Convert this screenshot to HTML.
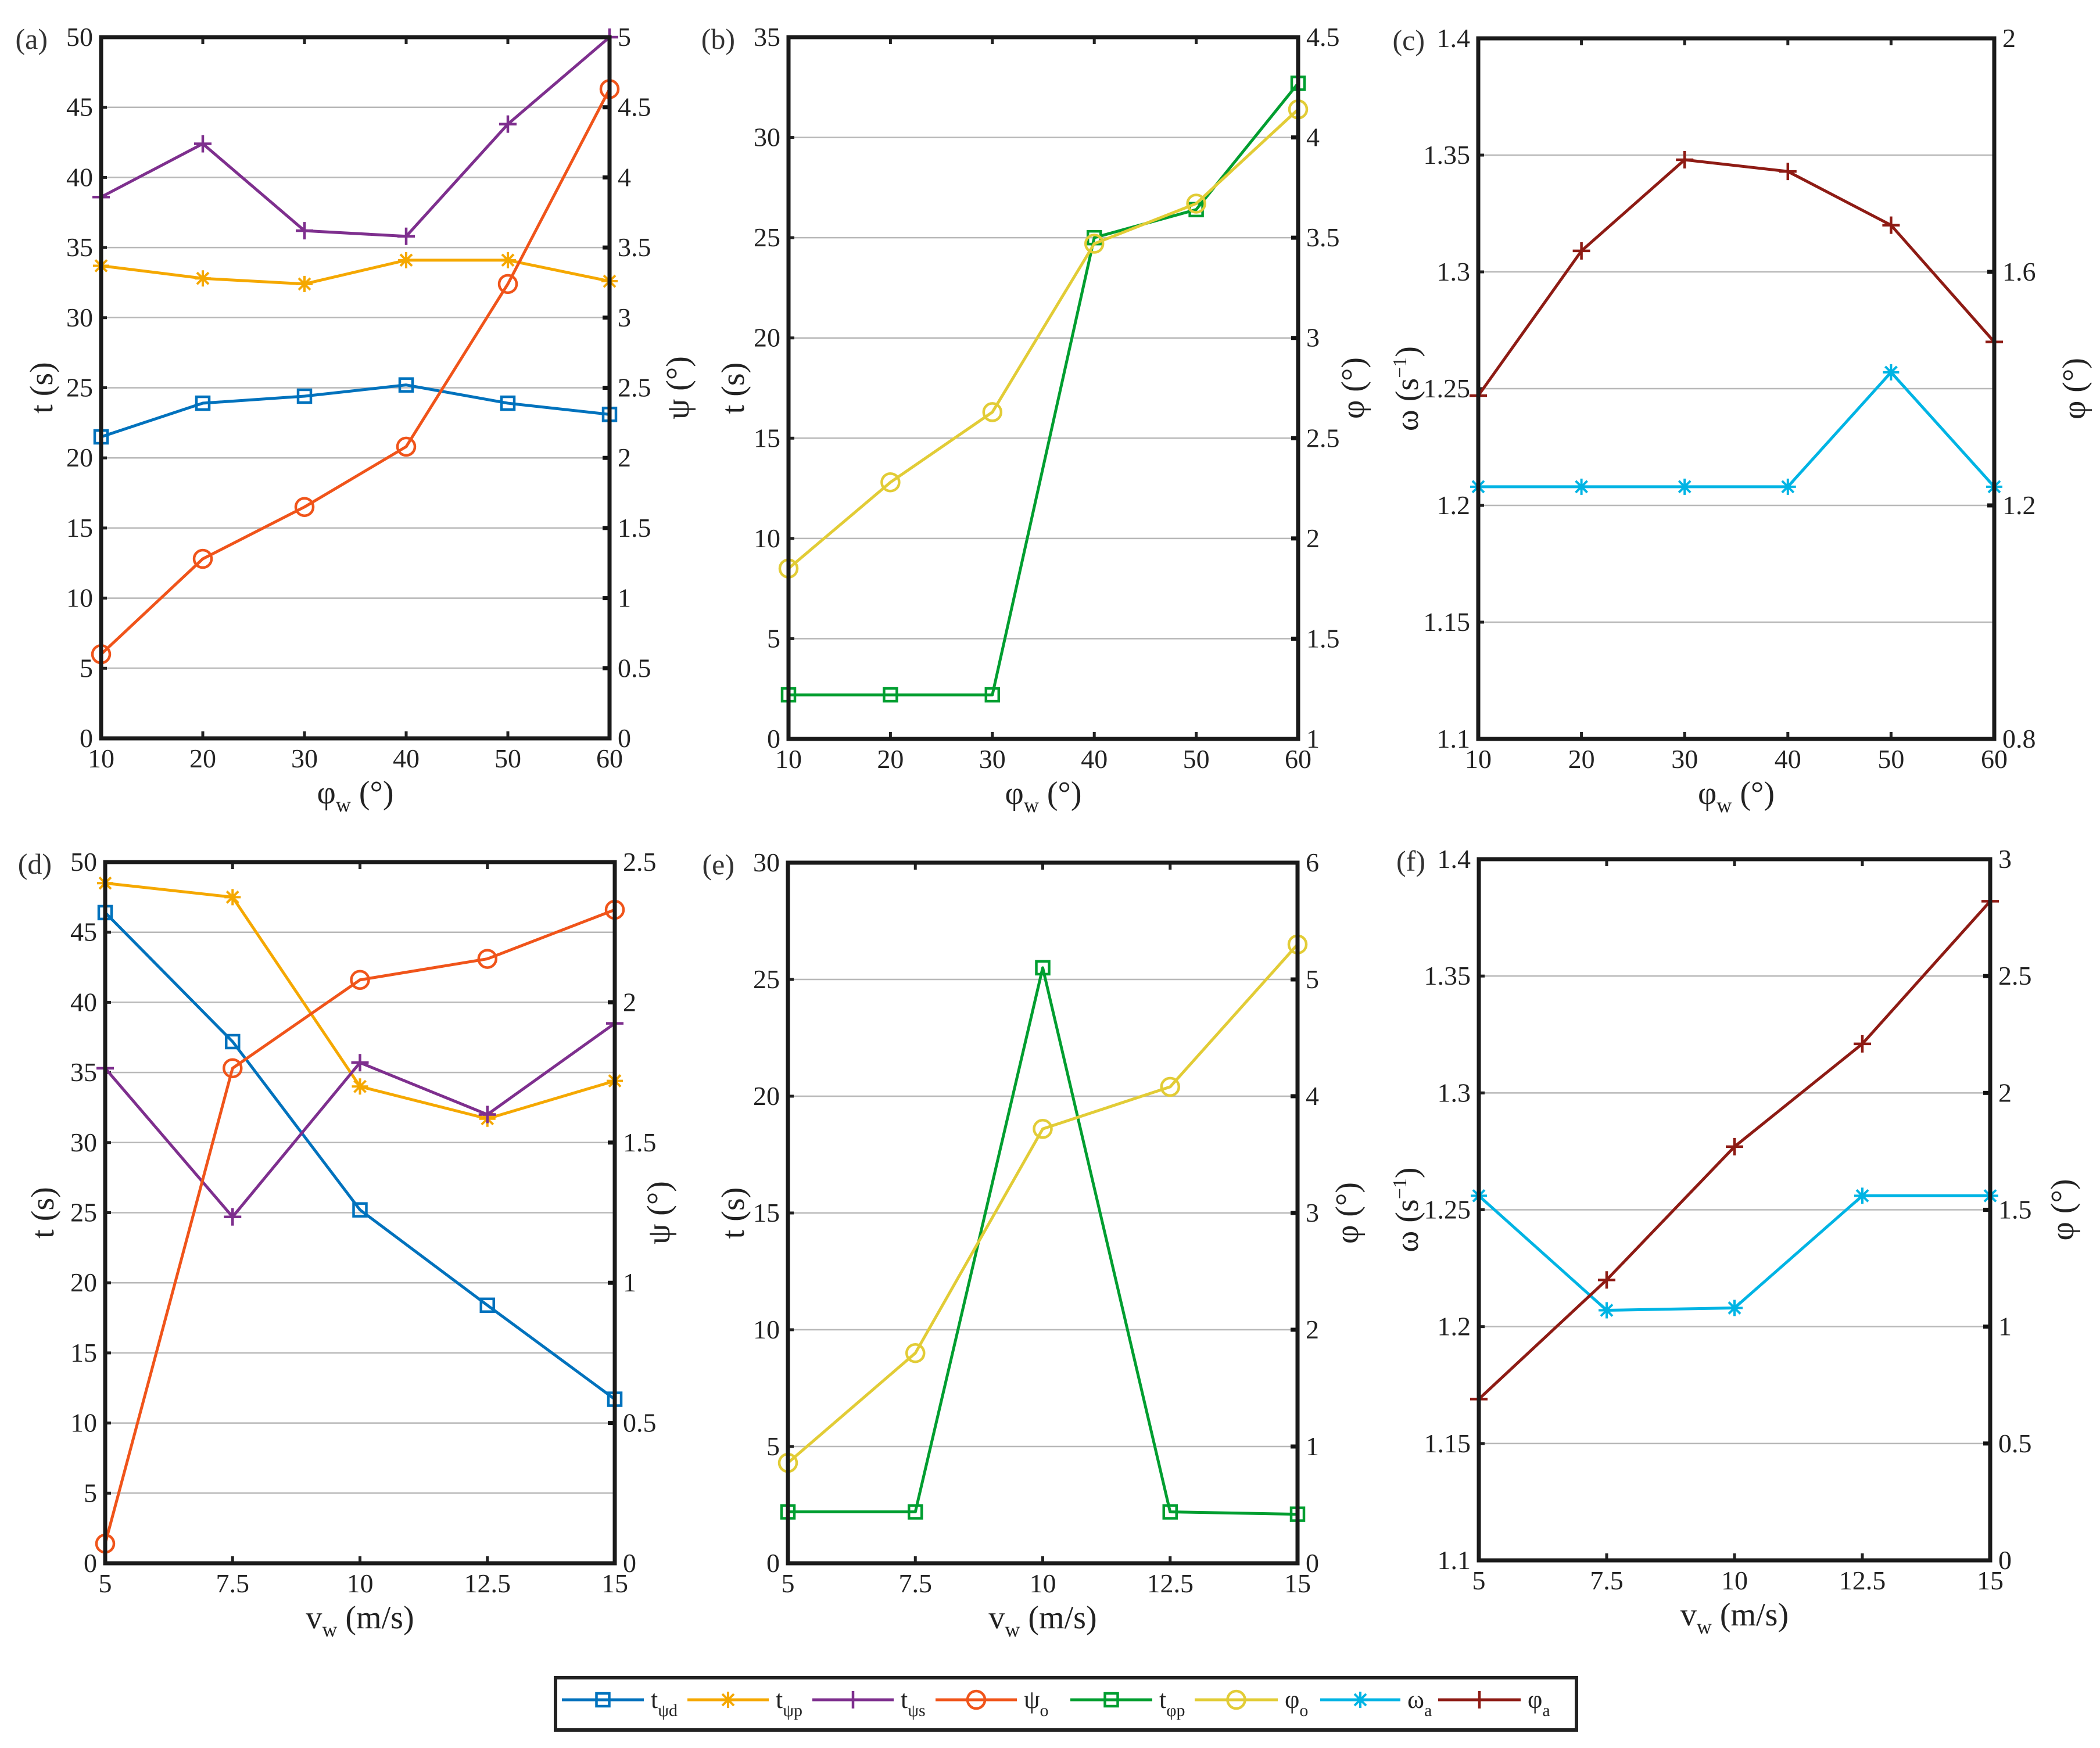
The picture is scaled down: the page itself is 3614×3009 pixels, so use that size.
<!DOCTYPE html>
<html><head><meta charset="utf-8">
<style>
html,body{margin:0;padding:0;background:#fff;}
svg{display:block;font-family:"Liberation Serif",serif;}
</style></head>
<body>
<svg id="fig" width="3614" height="3009" viewBox="0 0 3614 3009" xmlns="http://www.w3.org/2000/svg"></svg>
<script>
// ---- data ----
const xA = [10,20,30,40,50,60];
const xV = [5,7.5,10,12.5,15];
const a_tpsid = [21.5,23.9,24.4,25.2,23.9,23.1];
const a_tpsip = [33.7,32.8,32.4,34.1,34.1,32.6];
const a_tpsis = [38.6,42.4,36.2,35.8,43.8,50.0];
const a_psio  = [0.60,1.28,1.65,2.08,3.24,4.63];
const b_tphip = [2.2,2.2,2.2,25.0,26.4,32.7];
const b_phio  = [1.85,2.28,2.63,3.47,3.67,4.14];
const c_omega = [1.208,1.208,1.208,1.208,1.257,1.208];
const c_phia  = [1.388,1.636,1.792,1.772,1.68,1.48];
const d_tpsid = [46.4,37.2,25.2,18.4,11.7];
const d_tpsip = [48.5,47.5,34.0,31.7,34.4];
const d_tpsis = [35.3,24.7,35.7,32.0,38.5];
const d_psio  = [0.07,1.765,2.08,2.155,2.33];
const e_tphip = [2.2,2.2,25.5,2.2,2.1];
const e_phio  = [0.86,1.8,3.72,4.08,5.3];
const f_omega = [1.256,1.207,1.208,1.256,1.256];
const f_phia  = [0.69,1.2,1.77,2.21,2.82];
const ticksA = ['10','20','30','40','50','60'];
const ticksV = ['5','7.5','10','12.5','15'];

const C = {blue:'#0072BD',orange:'#F5A800',purple:'#7E2F8E',red:'#F0541A',green:'#009E30',yellow:'#E2CC36',cyan:'#00B4E4',dred:'#8E1B14'};
const NS='http://www.w3.org/2000/svg';
const svg=document.getElementById('fig');
function el(tag,attrs,parent){const e=document.createElementNS(NS,tag);for(const k in attrs)e.setAttribute(k,attrs[k]);(parent||svg).appendChild(e);return e;}

function marker(g,type,x,y,col){
  if(type==='sq'){el('rect',{x:x-11,y:y-11,width:22,height:22,fill:'none',stroke:col,'stroke-width':4.5},g);}
  else if(type==='o'){el('circle',{cx:x,cy:y,r:15,fill:'none',stroke:col,'stroke-width':4.5},g);}
  else if(type==='+'){el('path',{d:`M${x-15},${y}H${x+15}M${x},${y-15}V${y+15}`,stroke:col,'stroke-width':4.5},g);}
  else if(type==='*'){el('path',{d:`M${x-14},${y}H${x+14}M${x},${y-14}V${y+14}M${x-10},${y-10}L${x+10},${y+10}M${x-10},${y+10}L${x+10},${y-10}`,stroke:col,'stroke-width':4},g);}
}

function panel(p){
  const g=el('g',{});
  
  
  const {L,R,T,B}=p;
  const xs=v=>L+(v-p.xmin)/(p.xmax-p.xmin)*(R-L);
  const yl=v=>B-(v-p.lmin)/(p.lmax-p.lmin)*(B-T);
  const yr=v=>B-(v-p.rmin)/(p.rmax-p.rmin)*(B-T);
  // grid + left ticks
  p.lticks.forEach(t=>{
    const y=yl(t);
    if(y>T+2&&y<B-2){const gl=el('line',{x1:L,x2:R,y1:y,y2:y,stroke:'#b8b8b8','stroke-width':2.5},g);
      }
    el('line',{x1:L,x2:L+10,y1:y,y2:y,stroke:'#222','stroke-width':5},g);
    const tx=el('text',{x:L-14,y:y+15,'text-anchor':'end','font-size':46,fill:'#222'},g);
    tx.textContent=p.lfmt(t);
    
  });
  p.rticks.forEach(t=>{
    const y=yr(t);
    el('line',{x1:R-12,x2:R,y1:y,y2:y,stroke:'#111','stroke-width':7},g);
    const tx=el('text',{x:R+14,y:y+15,'text-anchor':'start','font-size':46,fill:'#222'},g);
    tx.textContent=p.rfmt(t);
    
  });
  p.xv.forEach((v,i)=>{
    const x=xs(v);
    el('line',{x1:x,x2:x,y1:B,y2:B-12,stroke:'#222','stroke-width':5},g);
    el('line',{x1:x,x2:x,y1:T,y2:T+12,stroke:'#222','stroke-width':5},g);
    const tx=el('text',{x:x,y:B+50,'text-anchor':'middle','font-size':46,fill:'#222'},g);
    tx.textContent=p.xlabels[i];
    
  });
  // series
  p.series.forEach(s=>{
    const sc=s.axis==='r'?yr:yl;
    const pts=s.data.map((v,i)=>[xs(p.xv[i]),sc(v)]);
    const sg=el('g',{},g);
    
    
    el('polyline',{points:pts.map(q=>q.join(',')).join(' '),fill:'none',stroke:s.col,'stroke-width':5,'stroke-linejoin':'round'},sg);
    pts.forEach(q=>marker(sg,s.m,q[0],q[1],s.col));
  });
  // frame
  el('rect',{x:L,y:T,width:R-L,height:B-T,fill:'none',stroke:'#1a1a1a','stroke-width':7},g);
  // labels
  const pl=el('text',{x:L-92,y:T+20,'text-anchor':'end','font-size':50,fill:'#333'},g);
  pl.textContent='('+p.id+')';
  
  const xl=el('text',{x:(L+R)/2,y:B+112,'text-anchor':'middle','font-size':56,fill:'#222'},g);
  xl.innerHTML=p.xlab;
  
  const ly=(T+B)/2;
  const yl1=el('text',{x:p.llx,y:ly,'text-anchor':'middle','font-size':56,fill:'#222',transform:`rotate(-90 ${p.llx} ${ly})`},g);
  yl1.innerHTML=p.llab;
  
  const yr1=el('text',{x:p.rlx,y:ly,'text-anchor':'middle','font-size':56,fill:'#222',transform:`rotate(-90 ${p.rlx} ${ly})`},g);
  yr1.innerHTML=p.rlab;
  
}
const rng=(a,b,s)=>{const r=[];for(let v=a;v<=b+1e-9;v+=s)r.push(Math.round(v*1000)/1000);return r;};
const f0=v=>String(v), f2=v=>String(+v.toFixed(2));
const XPHI='φ<tspan font-size="36" dy="14">w</tspan><tspan dy="-14"> (°)</tspan>';
const XV='v<tspan font-size="36" dy="14">w</tspan><tspan dy="-14"> (m/s)</tspan>';
const OM='ω (s<tspan font-size="34" dy="-20">−1</tspan><tspan dy="20">)</tspan>';

panel({id:'a',L:174,R:1049,T:64,B:1271,xmin:10,xmax:60,xv:xA,xlabels:ticksA,lmin:0,lmax:50,rmin:0,rmax:5,
  lticks:rng(0,50,5),rticks:rng(0,5,0.5),lfmt:f0,rfmt:f2,xlab:XPHI,llab:'t (s)',rlab:'ψ (°)',llx:90,rlx:1185,
  series:[{name:'t-psi-d',data:a_tpsid,col:C.blue,m:'sq'},{name:'t-psi-p',data:a_tpsip,col:C.orange,m:'*'},
  {name:'t-psi-s',data:a_tpsis,col:C.purple,m:'+'},{name:'psi-o',data:a_psio,col:C.red,m:'o',axis:'r'}]});
panel({id:'b',L:1357,R:2234,T:64,B:1272,xmin:10,xmax:60,xv:xA,xlabels:ticksA,lmin:0,lmax:35,rmin:1,rmax:4.5,
  lticks:rng(0,35,5),rticks:rng(1,4.5,0.5),lfmt:f0,rfmt:f2,xlab:XPHI,llab:'t (s)',rlab:'φ (°)',llx:1280,rlx:2347,
  series:[{name:'t-phi-p',data:b_tphip,col:C.green,m:'sq'},{name:'phi-o',data:b_phio,col:C.yellow,m:'o',axis:'r'}]});
panel({id:'c',L:2544,R:3432,T:66,B:1272,xmin:10,xmax:60,xv:xA,xlabels:ticksA,lmin:1.1,lmax:1.4,rmin:0.8,rmax:2,
  lticks:rng(1.1,1.4,0.05),rticks:rng(0.8,2,0.4),lfmt:f2,rfmt:f2,xlab:XPHI,llab:OM,rlab:'φ (°)',llx:2440,rlx:3588,
  series:[{name:'omega-a',data:c_omega,col:C.cyan,m:'*'},{name:'phi-a',data:c_phia,col:C.dred,m:'+',axis:'r'}]});
panel({id:'d',L:181,R:1058,T:1484,B:2691,xmin:5,xmax:15,xv:xV,xlabels:ticksV,lmin:0,lmax:50,rmin:0,rmax:2.5,
  lticks:rng(0,50,5),rticks:rng(0,2.5,0.5),lfmt:f0,rfmt:f2,xlab:XV,llab:'t (s)',rlab:'ψ (°)',llx:92,rlx:1152,
  series:[{name:'t-psi-d',data:d_tpsid,col:C.blue,m:'sq'},{name:'t-psi-p',data:d_tpsip,col:C.orange,m:'*'},
  {name:'t-psi-s',data:d_tpsis,col:C.purple,m:'+'},{name:'psi-o',data:d_psio,col:C.red,m:'o',axis:'r'}]});
panel({id:'e',L:1356,R:2233,T:1485,B:2691,xmin:5,xmax:15,xv:xV,xlabels:ticksV,lmin:0,lmax:30,rmin:0,rmax:6,
  lticks:rng(0,30,5),rticks:rng(0,6,1),lfmt:f0,rfmt:f0,xlab:XV,llab:'t (s)',rlab:'φ (°)',llx:1280,rlx:2337,
  series:[{name:'t-phi-p',data:e_tphip,col:C.green,m:'sq'},{name:'phi-o',data:e_phio,col:C.yellow,m:'o',axis:'r'}]});
panel({id:'f',L:2545,R:3425,T:1479,B:2686,xmin:5,xmax:15,xv:xV,xlabels:ticksV,lmin:1.1,lmax:1.4,rmin:0,rmax:3,
  lticks:rng(1.1,1.4,0.05),rticks:rng(0,3,0.5),lfmt:f2,rfmt:f2,xlab:XV,llab:OM,rlab:'φ (°)',llx:2440,rlx:3568,
  series:[{name:'omega-a',data:f_omega,col:C.cyan,m:'*'},{name:'phi-a',data:f_phia,col:C.dred,m:'+',axis:'r'}]});

// legend
const lg=el('g',{});


el('rect',{x:956,y:2888,width:1757,height:90,fill:'#fff',stroke:'#222','stroke-width':6},lg);
const legItems=[
 {x1:967,x2:1108,col:C.blue,m:'sq',t:'t',s:'ψd'},
 {x1:1183,x2:1323,col:C.orange,m:'*',t:'t',s:'ψp'},
 {x1:1398,x2:1538,col:C.purple,m:'+',t:'t',s:'ψs'},
 {x1:1610,x2:1750,col:C.red,m:'o',t:'ψ',s:'o'},
 {x1:1842,x2:1983,col:C.green,m:'sq',t:'t',s:'φp'},
 {x1:2056,x2:2199,col:C.yellow,m:'o',t:'φ',s:'o'},
 {x1:2272,x2:2410,col:C.cyan,m:'*',t:'ω',s:'a'},
 {x1:2475,x2:2617,col:C.dred,m:'+',t:'φ',s:'a'}];
legItems.forEach(it=>{
  const eg=el('g',{},lg);
  
  
  const y=2926;
  el('line',{x1:it.x1,x2:it.x2,y1:y,y2:y,stroke:it.col,'stroke-width':5},eg);
  marker(eg,it.m,(it.x1+it.x2)/2,y,it.col);
  const tx=el('text',{x:it.x2+12,y:y+14,'font-size':44,fill:'#222'},eg);
  tx.innerHTML=it.t+'<tspan font-size="30" dy="14">'+it.s+'</tspan>';
});
</script>
</body></html>
